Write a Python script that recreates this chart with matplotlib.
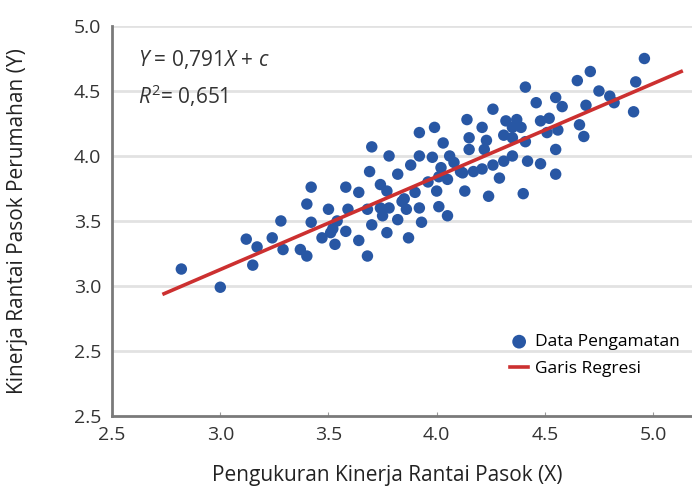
import matplotlib
matplotlib.use("Agg")
import matplotlib.pyplot as plt

plt.rcParams["font.family"] = ["Open Sans", "DejaVu Sans"]
plt.rcParams["mathtext.fontset"] = "custom"
plt.rcParams["mathtext.rm"] = "Open Sans"
plt.rcParams["mathtext.it"] = "Open Sans:italic"

# data pengamatan (X, Y)
x_obs = [2.82, 3.00, 3.12, 3.15, 3.17, 3.24, 3.28, 3.29, 3.37, 3.40,
         3.40, 3.42, 3.42, 3.47, 3.50, 3.51, 3.53, 3.52, 3.54, 3.58,
         3.58, 3.59, 3.64, 3.64, 3.68, 3.68, 3.70, 3.69, 3.70, 3.74,
         3.74, 3.75, 3.77, 3.77, 3.78, 3.78, 3.82, 3.82, 3.84, 3.85,
         3.86, 3.87, 3.88, 3.90, 3.92, 3.92, 3.92, 3.93, 3.98, 3.99,
         4.00, 4.01, 4.01, 4.02, 4.03, 4.05, 4.05, 4.06, 4.11, 4.13,
         4.12, 4.14, 4.15, 4.15, 4.17, 4.21, 4.21, 4.22, 4.23, 4.24,
         4.26, 4.26, 4.29, 4.31, 4.31, 4.32, 4.35, 4.35, 4.35, 4.37,
         4.39, 4.40, 4.41, 4.41, 4.42, 4.46, 4.48, 4.48, 4.52, 4.51,
         4.55, 4.55, 4.56, 4.55, 4.58, 4.65, 4.66, 4.68, 4.69, 4.71,
         4.75, 4.80, 4.82, 4.91, 4.92, 4.96, 3.96, 4.08]
y_obs = [3.13, 2.99, 3.36, 3.16, 3.30, 3.37, 3.50, 3.28, 3.28, 3.23,
         3.63, 3.76, 3.49, 3.37, 3.59, 3.41, 3.32, 3.44, 3.50, 3.76,
         3.42, 3.59, 3.72, 3.35, 3.23, 3.59, 3.47, 3.88, 4.07, 3.78,
         3.60, 3.54, 3.73, 3.41, 3.60, 4.00, 3.86, 3.51, 3.65, 3.67,
         3.59, 3.37, 3.93, 3.72, 4.18, 4.00, 3.60, 3.49, 3.99, 4.22,
         3.73, 3.61, 3.84, 3.91, 4.10, 3.82, 3.54, 4.00, 3.88, 3.73,
         3.87, 4.28, 4.14, 4.05, 3.88, 3.90, 4.22, 4.05, 4.12, 3.69,
         4.36, 3.93, 3.83, 3.96, 4.16, 4.27, 4.00, 4.14, 4.22, 4.28,
         4.22, 3.71, 4.53, 4.11, 3.96, 4.41, 4.27, 3.94, 4.29, 4.18,
         4.45, 4.05, 4.20, 3.86, 4.38, 4.58, 4.24, 4.15, 4.39, 4.65,
         4.50, 4.46, 4.41, 4.34, 4.57, 4.75, 3.80, 3.95]

# garis regresi
x_line = [2.74, 5.13]
y_line = [2.94, 4.65]

y_ticks = [2.0, 2.5, 3.0, 3.5, 4.0, 4.5, 5.0]
y_labels = ["2.5", "2.5", "3.0", "3.5", "4.0", "4.5", "5.0"]
x_ticks = [2.5, 3.0, 3.5, 4.0, 4.5, 5.0]
x_labels = ["2.5", "3.0", "3.5", "4.0", "4.5", "5.0"]

fig = plt.figure(figsize=(6.92, 4.91), dpi=100)
ax = fig.add_axes([0.162, 0.153, 0.838, 0.794])

ax.scatter(x_obs, y_obs, s=68, color="#2857a4", edgecolors="none",
           zorder=3, label="Data Pengamatan")
ax.plot(x_line, y_line, color="#cc3030", lw=2.6, zorder=4,
        label="Garis Regresi")

ax.set_xlim(2.5, 5.18)
ax.set_ylim(2.0, 5.0)
ax.set_xticks(x_ticks)
ax.set_xticklabels(x_labels)
ax.set_yticks(y_ticks)
ax.set_yticklabels(y_labels)
ax.tick_params(axis="x", direction="in", length=3, color="#999999",
               labelsize=14, pad=7, labelcolor="#333333")
ax.tick_params(axis="y", length=0, labelsize=14, pad=8,
               labelcolor="#333333")

for v in y_ticks[1:]:
    ax.axhline(v, color="#e2e2e2", lw=2, zorder=1)

for s in ["top", "right"]:
    ax.spines[s].set_visible(False)
for s in ["left", "bottom"]:
    ax.spines[s].set_color("#7a7a7a")
    ax.spines[s].set_linewidth(2)

ax.set_xlabel("Pengukuran Kinerja Rantai Pasok (X)", fontsize=15,
              color="#222222")
ax.set_ylabel("Kinerja Rantai Pasok Perumahan (Y)", fontsize=15,
              color="#222222")
ax.xaxis.set_label_coords(0.475, -0.125)
ax.yaxis.set_label_coords(-0.145, 0.5)

ax.text(0.045, 0.915, r"$Y$ = 0,791$X$ + $c$", transform=ax.transAxes,
        fontsize=15, color="#333333", va="center")
ax.text(0.045, 0.82, r"$R^2$= 0,651", transform=ax.transAxes,
        fontsize=15, color="#333333", va="center")

ax.legend(loc="center left", bbox_to_anchor=(0.66, 0.155), frameon=False,
          fontsize=12.5, handlelength=1.0, handletextpad=0.4,
          labelspacing=0.6, markerscale=1.2)

fig.savefig("out.png", dpi=100)
